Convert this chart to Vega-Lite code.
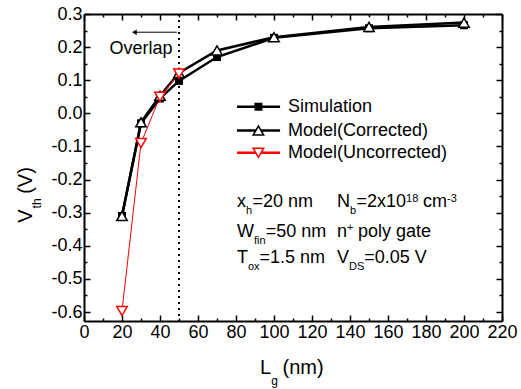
{
  "$schema": "https://vega.github.io/schema/vega-lite/v6.json",
  "width": 418,
  "height": 307,
  "autosize": "none",
  "padding": {"left": 84, "top": 14, "right": 19, "bottom": 68},
  "background": "white",
  "config": {
    "view": {"stroke": null},
    "font": "Liberation Sans",
    "text": {"font": "Liberation Sans", "color": "black"},
    "axis": {
      "domainColor": "black", "domainWidth": 2, "tickColor": "black", "tickWidth": 1.5,
      "grid": false, "title": null, "labelFont": "Liberation Sans", "labelFontSize": 18, "labelColor": "black"
    }
  },
  "datasets": {
    "series": [
      {"s": "Simulation", "x": 20, "y": -0.31}, {"s": "Simulation", "x": 30, "y": -0.03}, {"s": "Simulation", "x": 40, "y": 0.045},
      {"s": "Simulation", "x": 50, "y": 0.098}, {"s": "Simulation", "x": 70, "y": 0.17}, {"s": "Simulation", "x": 100, "y": 0.228},
      {"s": "Simulation", "x": 150, "y": 0.257}, {"s": "Simulation", "x": 200, "y": 0.266},
      {"s": "Corrected", "x": 20, "y": -0.31}, {"s": "Corrected", "x": 30, "y": -0.027}, {"s": "Corrected", "x": 40, "y": 0.053},
      {"s": "Corrected", "x": 50, "y": 0.122}, {"s": "Corrected", "x": 70, "y": 0.19}, {"s": "Corrected", "x": 100, "y": 0.23},
      {"s": "Corrected", "x": 150, "y": 0.261}, {"s": "Corrected", "x": 200, "y": 0.274},
      {"s": "Uncorrected", "x": 20, "y": -0.597}, {"s": "Uncorrected", "x": 30, "y": -0.09}, {"s": "Uncorrected", "x": 40, "y": 0.05},
      {"s": "Uncorrected", "x": 50, "y": 0.12}
    ],
    "legend": [
      {"s": "Simulation", "label": "Simulation", "x1": 80.5, "x2": 103.2, "xm": 91.8, "xt": 107.4, "y": 0.02},
      {"s": "Corrected", "label": "Model(Corrected)", "x1": 80.5, "x2": 103.2, "xm": 91.8, "xt": 107.4, "y": -0.052},
      {"s": "Uncorrected", "label": "Model(Uncorrected)", "x1": 80.5, "x2": 103.2, "xm": 91.8, "xt": 107.4, "y": -0.119}
    ],
    "notes": [
      {"k": "main", "t": "x", "x": 80.5, "y": -0.284},
      {"k": "sub", "t": "h", "x": 85.3, "y": -0.305},
      {"k": "main", "t": "=20 nm", "x": 88.7, "y": -0.284},
      {"k": "main", "t": "N", "x": 133.2, "y": -0.284},
      {"k": "sub", "t": "b", "x": 140.0, "y": -0.305},
      {"k": "main", "t": "=2x10", "x": 143.4, "y": -0.284},
      {"k": "sub", "t": "18", "x": 169.5, "y": -0.269},
      {"k": "main", "t": "cm", "x": 178.4, "y": -0.284},
      {"k": "sub", "t": "-3", "x": 191.1, "y": -0.269},
      {"k": "main", "t": "W", "x": 80.5, "y": -0.372},
      {"k": "sub", "t": "fin", "x": 89.5, "y": -0.393},
      {"k": "main", "t": "=50 nm", "x": 95.6, "y": -0.372},
      {"k": "main", "t": "n", "x": 133.2, "y": -0.372},
      {"k": "sub", "t": "+", "x": 138.4, "y": -0.354},
      {"k": "main", "t": "poly gate", "x": 144.2, "y": -0.372},
      {"k": "main", "t": "T", "x": 80.5, "y": -0.452},
      {"k": "sub", "t": "ox", "x": 86.3, "y": -0.474},
      {"k": "main", "t": "=1.5 nm", "x": 92.4, "y": -0.452},
      {"k": "main", "t": "V", "x": 133.2, "y": -0.452},
      {"k": "sub", "t": "DS", "x": 139.5, "y": -0.474},
      {"k": "main", "t": "=0.05 V", "x": 147.5, "y": -0.452},
      {"k": "main", "t": "Overlap", "x": 30, "y": 0.178, "c": true},
      {"k": "title", "t": "L", "x": 92.6, "y": -0.787},
      {"k": "titlesub", "t": "g", "x": 98.6, "y": -0.82},
      {"k": "title", "t": "(nm)", "x": 104.5, "y": -0.787}
    ],
    "ytitle": [
      {"k": "title", "t": "V", "x": -27.4, "y": -0.33},
      {"k": "titlesub", "t": "th", "x": -22.6, "y": -0.287},
      {"k": "title", "t": "(V)", "x": -27.4, "y": -0.243}
    ],
    "marks": [
      {"x": 50, "xa": 48.9, "xb": 26.5, "ya": 0.245, "xh": 26.5}
    ]
  },
  "layer": [
    {
      "data": {"name": "marks"},
      "mark": {"type": "rule", "color": "black", "strokeWidth": 2, "strokeDash": [2, 4]},
      "encoding": {
        "x": {"field": "x", "type": "quantitative", "scale": {"domain": [0, 220], "nice": false, "zero": false}, "axis": null}
      }
    },
    {
      "data": {"name": "series"},
      "transform": [{"filter": "datum.s === 'Simulation'"}],
      "mark": {"type": "line", "color": "black", "strokeWidth": 2.5},
      "encoding": {
        "x": {"field": "x", "type": "quantitative", "scale": {"domain": [0, 220], "nice": false, "zero": false},
          "axis": {"orient": "bottom", "values": [0,10,20,30,40,50,60,70,80,90,100,110,120,130,140,150,160,170,180,190,200,210,220],
            "labelExpr": "datum.value % 20 === 0 ? datum.label : ''",
            "tickSize": {"condition": {"test": "datum.value % 20 === 0", "value": -6}, "value": -3},
            "labelPadding": 8, "labelFlush": false}},
        "y": {"field": "y", "type": "quantitative", "scale": {"domain": [-0.627, 0.3], "nice": false, "zero": false},
          "axis": {"orient": "left", "values": [-0.6,-0.55,-0.5,-0.45,-0.4,-0.35,-0.3,-0.25,-0.2,-0.15,-0.1,-0.05,0,0.05,0.1,0.15,0.2,0.25,0.3],
            "labelExpr": "abs(round(datum.value*100)) % 10 === 0 ? replace(format(datum.value, '.1f'), '\u2212', '-') : ''",
            "tickSize": {"condition": {"test": "abs(round(datum.value*100)) % 10 === 0", "value": -6}, "value": -3},
            "labelPadding": 8, "labelFlush": false}}
      }
    },
    {
      "data": {"name": "series"},
      "transform": [{"filter": "datum.s === 'Corrected'"}],
      "mark": {"type": "line", "color": "black", "strokeWidth": 2.5},
      "encoding": {
        "x": {"field": "x", "type": "quantitative", "scale": {"domain": [0, 220], "nice": false, "zero": false},
          "axis": {"orient": "top", "values": [0,10,20,30,40,50,60,70,80,90,100,110,120,130,140,150,160,170,180,190,200,210,220],
            "labels": false,
            "tickSize": {"condition": {"test": "datum.value % 20 === 0", "value": -6}, "value": -3}}},
        "y": {"field": "y", "type": "quantitative", "scale": {"domain": [-0.627, 0.3], "nice": false, "zero": false},
          "axis": {"orient": "right", "values": [-0.6,-0.55,-0.5,-0.45,-0.4,-0.35,-0.3,-0.25,-0.2,-0.15,-0.1,-0.05,0,0.05,0.1,0.15,0.2,0.25,0.3],
            "labels": false,
            "tickSize": {"condition": {"test": "abs(round(datum.value*100)) % 10 === 0", "value": -6}, "value": -3}}}
      }
    },
    {
      "data": {"name": "series"},
      "transform": [{"filter": "datum.s === 'Uncorrected'"}],
      "mark": {"type": "line", "color": "#ff0000", "strokeWidth": 1},
      "encoding": {
        "x": {"field": "x", "type": "quantitative", "axis": null},
        "y": {"field": "y", "type": "quantitative", "axis": null}
      }
    },
    {
      "data": {"name": "series"},
      "transform": [{"filter": "datum.s === 'Simulation'"}],
      "mark": {"type": "point", "shape": "square", "filled": true, "color": "black", "size": 64, "opacity": 1},
      "encoding": {
        "x": {"field": "x", "type": "quantitative", "axis": null},
        "y": {"field": "y", "type": "quantitative", "axis": null}
      }
    },
    {
      "data": {"name": "series"},
      "transform": [{"filter": "datum.s === 'Corrected'"}],
      "mark": {"type": "point", "shape": "triangle-up", "fill": "white", "stroke": "black", "strokeWidth": 1.5, "size": 110, "opacity": 1, "fillOpacity": 1},
      "encoding": {
        "x": {"field": "x", "type": "quantitative", "axis": null},
        "y": {"field": "y", "type": "quantitative", "axis": null}
      }
    },
    {
      "data": {"name": "series"},
      "transform": [{"filter": "datum.s === 'Uncorrected'"}],
      "mark": {"type": "point", "shape": "triangle-down", "fill": "white", "stroke": "#ff0000", "strokeWidth": 1.5, "size": 110, "opacity": 1, "fillOpacity": 1},
      "encoding": {
        "x": {"field": "x", "type": "quantitative", "axis": null},
        "y": {"field": "y", "type": "quantitative", "axis": null}
      }
    },
    {
      "data": {"name": "legend"},
      "mark": {"type": "rule", "strokeWidth": 2.5},
      "encoding": {
        "x": {"field": "x1", "type": "quantitative", "axis": null},
        "x2": {"field": "x2"},
        "y": {"field": "y", "type": "quantitative", "axis": null},
        "color": {"field": "s", "type": "nominal", "legend": null, "scale": {"domain": ["Simulation", "Corrected", "Uncorrected"], "range": ["black", "black", "#ff0000"]}},
        "strokeWidth": {"field": "s", "type": "nominal", "legend": null, "scale": {"domain": ["Simulation", "Corrected", "Uncorrected"], "range": [2.5, 2.5, 1]}}
      }
    },
    {
      "data": {"name": "legend"},
      "transform": [{"filter": "datum.s === 'Simulation'"}],
      "mark": {"type": "point", "shape": "square", "filled": true, "color": "black", "size": 64, "opacity": 1},
      "encoding": {
        "x": {"field": "xm", "type": "quantitative", "axis": null},
        "y": {"field": "y", "type": "quantitative", "axis": null}
      }
    },
    {
      "data": {"name": "legend"},
      "transform": [{"filter": "datum.s === 'Corrected'"}],
      "mark": {"type": "point", "shape": "triangle-up", "fill": "white", "stroke": "black", "strokeWidth": 1.5, "size": 110, "opacity": 1},
      "encoding": {
        "x": {"field": "xm", "type": "quantitative", "axis": null},
        "y": {"field": "y", "type": "quantitative", "axis": null}
      }
    },
    {
      "data": {"name": "legend"},
      "transform": [{"filter": "datum.s === 'Uncorrected'"}],
      "mark": {"type": "point", "shape": "triangle-down", "fill": "white", "stroke": "#ff0000", "strokeWidth": 1.5, "size": 110, "opacity": 1},
      "encoding": {
        "x": {"field": "xm", "type": "quantitative", "axis": null},
        "y": {"field": "y", "type": "quantitative", "axis": null}
      }
    },
    {
      "data": {"name": "legend"},
      "mark": {"type": "text", "align": "left", "baseline": "middle", "fontSize": 18},
      "encoding": {
        "x": {"field": "xt", "type": "quantitative", "axis": null},
        "y": {"field": "y", "type": "quantitative", "axis": null},
        "text": {"field": "label"}
      }
    },
    {
      "data": {"name": "marks"},
      "mark": {"type": "rule", "color": "black", "strokeWidth": 1},
      "encoding": {
        "x": {"field": "xa", "type": "quantitative", "axis": null},
        "x2": {"field": "xb"},
        "y": {"field": "ya", "type": "quantitative", "axis": null}
      }
    },
    {
      "data": {"name": "marks"},
      "mark": {"type": "point", "shape": "triangle-left", "filled": true, "color": "black", "size": 30, "opacity": 1},
      "encoding": {
        "x": {"field": "xh", "type": "quantitative", "axis": null},
        "y": {"field": "ya", "type": "quantitative", "axis": null}
      }
    },
    {
      "data": {"name": "notes"},
      "transform": [{"filter": "datum.k === 'main' && !datum.c"}],
      "mark": {"type": "text", "align": "left", "baseline": "alphabetic", "fontSize": 18},
      "encoding": {
        "x": {"field": "x", "type": "quantitative", "axis": null},
        "y": {"field": "y", "type": "quantitative", "axis": null},
        "text": {"field": "t"}
      }
    },
    {
      "data": {"name": "notes"},
      "transform": [{"filter": "datum.k === 'main' && datum.c"}],
      "mark": {"type": "text", "align": "center", "baseline": "alphabetic", "fontSize": 18},
      "encoding": {
        "x": {"field": "x", "type": "quantitative", "axis": null},
        "y": {"field": "y", "type": "quantitative", "axis": null},
        "text": {"field": "t"}
      }
    },
    {
      "data": {"name": "notes"},
      "transform": [{"filter": "datum.k === 'sub'"}],
      "mark": {"type": "text", "align": "left", "baseline": "alphabetic", "fontSize": 11},
      "encoding": {
        "x": {"field": "x", "type": "quantitative", "axis": null},
        "y": {"field": "y", "type": "quantitative", "axis": null},
        "text": {"field": "t"}
      }
    },
    {
      "data": {"name": "notes"},
      "transform": [{"filter": "datum.k === 'title'"}],
      "mark": {"type": "text", "align": "left", "baseline": "alphabetic", "fontSize": 20},
      "encoding": {
        "x": {"field": "x", "type": "quantitative", "axis": null},
        "y": {"field": "y", "type": "quantitative", "axis": null},
        "text": {"field": "t"}
      }
    },
    {
      "data": {"name": "notes"},
      "transform": [{"filter": "datum.k === 'titlesub'"}],
      "mark": {"type": "text", "align": "left", "baseline": "alphabetic", "fontSize": 12},
      "encoding": {
        "x": {"field": "x", "type": "quantitative", "axis": null},
        "y": {"field": "y", "type": "quantitative", "axis": null},
        "text": {"field": "t"}
      }
    },
    {
      "data": {"name": "ytitle"},
      "transform": [{"filter": "datum.k === 'title'"}],
      "mark": {"type": "text", "align": "left", "baseline": "alphabetic", "fontSize": 20, "angle": 270},
      "encoding": {
        "x": {"field": "x", "type": "quantitative", "axis": null},
        "y": {"field": "y", "type": "quantitative", "axis": null},
        "text": {"field": "t"}
      }
    },
    {
      "data": {"name": "ytitle"},
      "transform": [{"filter": "datum.k === 'titlesub'"}],
      "mark": {"type": "text", "align": "left", "baseline": "alphabetic", "fontSize": 12, "angle": 270},
      "encoding": {
        "x": {"field": "x", "type": "quantitative", "axis": null},
        "y": {"field": "y", "type": "quantitative", "axis": null},
        "text": {"field": "t"}
      }
    }
  ],
  "resolve": {"axis": {"x": "independent", "y": "independent"}}
}
